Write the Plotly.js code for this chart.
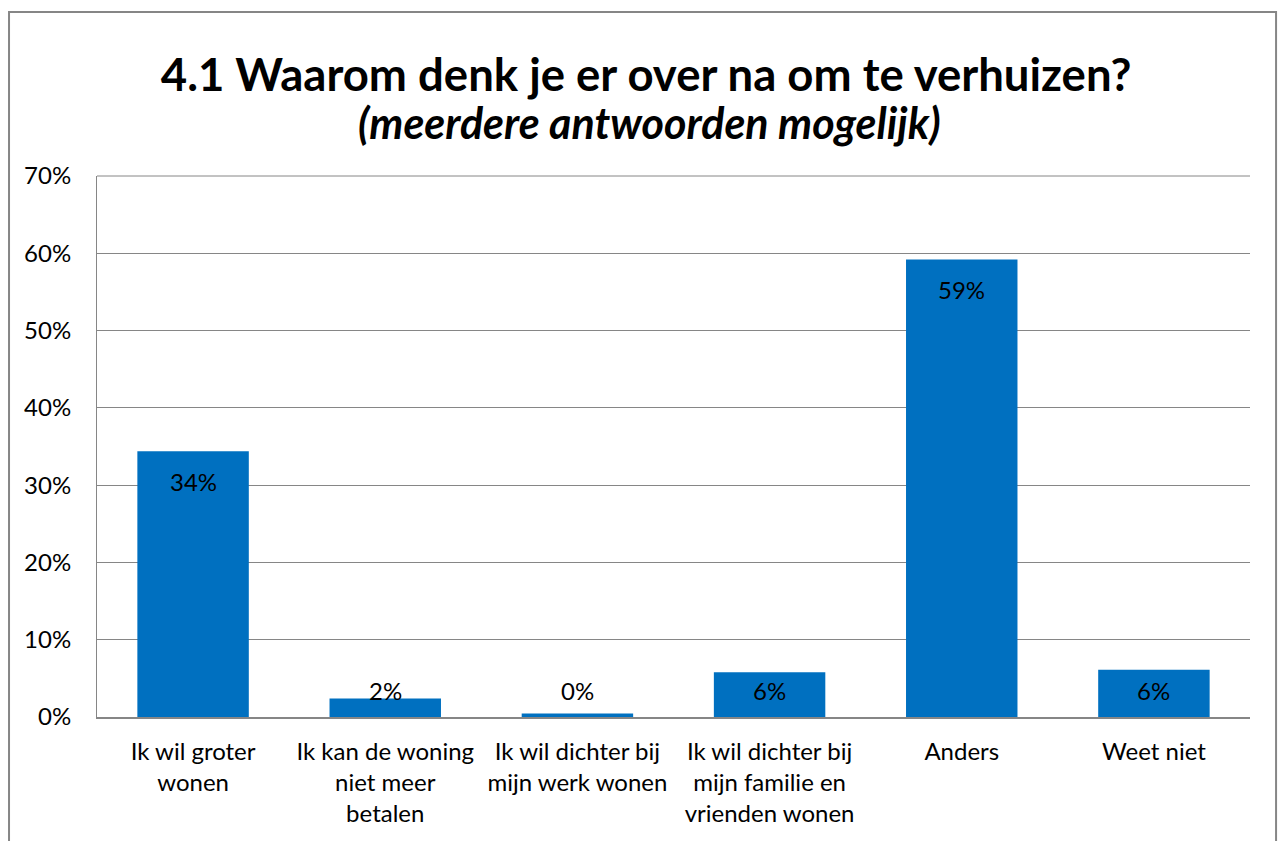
<!DOCTYPE html>
<html>
<head>
<meta charset="utf-8">
<script src="https://cdn.plot.ly/plotly-3.0.1.min.js"></script>
<style>
  html, body { margin: 0; padding: 0; background: #fff; }
  #plot { width: 1282px; height: 841px; }
</style>
</head>
<body>
<div id="plot"></div>
<script>
// answers (categories), wrapped like the original axis labels
let categories = [
  'Ik wil groter<br>wonen',
  'Ik kan de woning<br>niet meer<br>betalen',
  'Ik wil dichter bij<br>mijn werk wonen',
  'Ik wil dichter bij<br>mijn familie en<br>vrienden wonen',
  'Anders',
  'Weet niet'
]
// share of respondents, in percent
let values = [34.4, 2.4, 0.45, 5.8, 59.2, 6.1]
// data labels as shown on the bars
let labels = ['34%', '2%', '0%', '6%', '59%', '6%']
// y axis ticks
let tickVals = [0, 10, 20, 30, 40, 50, 60, 70]
let tickText = ['0%', '10%', '20%', '30%', '40%', '50%', '60%', '70%']

let font = 'Lato, "Open Sans", sans-serif'

let trace = {
  x: categories,
  y: values,
  type: 'bar',
  marker: { color: '#0070C0' },
  width: 0.58,
  hoverinfo: 'skip'
}

// labels sit inside the top of the bar, but never lower than just above the axis
let annotations = []
for (let i = 0; i < values.length; i++) {
  annotations.push({
    x: categories[i],
    y: Math.max(values[i] - 3.9, 3.4),
    xref: 'x',
    yref: 'y',
    text: labels[i],
    showarrow: false,
    yanchor: 'middle',
    font: { family: font, size: 24, color: '#000' }
  })
}

// second title line
annotations.push({
  xref: 'paper',
  yref: 'paper',
  x: 0.4795,
  y: 1.098,
  xanchor: 'center',
  yanchor: 'middle',
  showarrow: false,
  text: '<b><i>(meerdere antwoorden mogelijk)</i></b>',
  font: { family: font, size: 43, color: '#000' }
})

let layout = {
  width: 1282,
  height: 841,
  paper_bgcolor: '#fff',
  plot_bgcolor: '#fff',
  showlegend: false,
  title: {
    text: '<b>4.1 Waarom denk je er over na om te verhuizen?</b>',
    font: { family: font, size: 45.5, color: '#000' },
    x: 0.504,
    xanchor: 'center',
    yref: 'container',
    y: 0.911,
    yanchor: 'middle'
  },
  margin: { l: 97, r: 32, t: 176, b: 124, pad: 0 },
  bargap: 0.42,
  xaxis: {
    type: 'category',
    showgrid: false,
    showline: true,
    linecolor: '#868686',
    linewidth: 2,
    ticks: '',
    ticklabelstandoff: 12,
    tickfont: { family: font, size: 24, color: '#000' },
    automargin: false
  },
  yaxis: {
    range: [0, 70],
    tickvals: tickVals,
    ticktext: tickText,
    showgrid: true,
    gridcolor: '#868686',
    gridwidth: 1,
    showline: true,
    linecolor: '#868686',
    linewidth: 1,
    zeroline: false,
    ticks: '',
    ticklabelstandoff: 20,
    tickfont: { family: font, size: 24, color: '#000' },
    automargin: false
  },
  annotations: annotations,
  shapes: [
    // outer chart border
    {
      type: 'rect',
      xref: 'paper',
      yref: 'paper',
      x0: -0.0763,
      x1: 1.0226,
      y0: -0.3,
      y1: 1.303,
      line: { color: '#868686', width: 2 },
      fillcolor: 'rgba(0,0,0,0)'
    },
    // top gridline at 70%
    {
      type: 'line',
      xref: 'paper',
      yref: 'paper',
      x0: 0,
      x1: 1,
      y0: 1,
      y1: 1,
      line: { color: '#868686', width: 1 }
    }
  ]
}

Plotly.newPlot('plot', [trace], layout, { displayModeBar: false, staticPlot: true })
</script>
</body>
</html>
